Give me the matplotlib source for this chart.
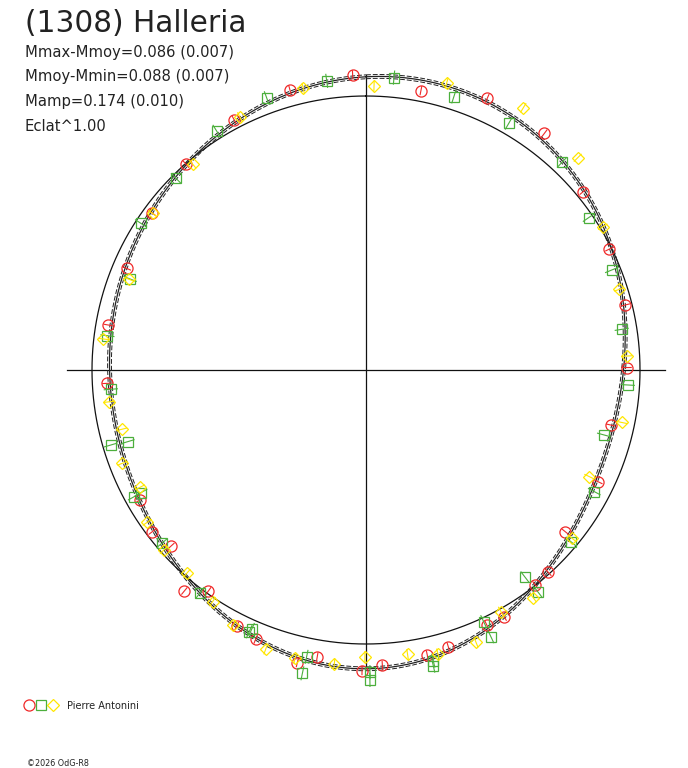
import numpy as np
import matplotlib
matplotlib.use("Agg")
import matplotlib.pyplot as plt
from matplotlib.collections import LineCollection

# ---------------- data ----------------
title = "(1308) Halleria"
stats_lines = ["Mmax-Mmoy=0.086 (0.007)", "Mmoy-Mmin=0.088 (0.007)",
               "Mamp=0.174 (0.010)", "Eclat^1.00"]
observer = "Pierre Antonini"
copyright_txt = "\u00a92026 OdG-R8"

# rotational phase (0..1, clockwise from top) and relative magnitude
red_phase = [0.9578, 0.9928, 0.0309, 0.0668, 0.9228, 0.8856, 0.8508, 0.8139, 0.7775,
             0.1028, 0.1406, 0.1766, 0.2109, 0.2485, 0.2852, 0.3214, 0.3585, 0.3833,
             0.3938, 0.4187, 0.4296, 0.4540, 0.4663, 0.4912, 0.5021, 0.5268, 0.5367,
             0.5619, 0.5744, 0.5986, 0.6095, 0.6331, 0.6469, 0.6669, 0.7418]
red_mag = [-0.059, -0.078, -0.039, -0.086, -0.032, 0.002, 0.030, 0.051, 0.045,
           -0.082, -0.026, 0.008, 0.024, 0.047, 0.085, 0.059, 0.063, 0.006,
           0.001, -0.032, -0.030, -0.055, -0.064, -0.080, -0.097, -0.062, -0.097,
           -0.062, -0.047, 0.009, -0.044, 0.041, 0.022, 0.048, 0.053]

green_phase = [0.9443, 0.9785, 0.0152, 0.0495, 0.9111, 0.8757, 0.8419, 0.8086, 0.7710,
               0.0835, 0.1204, 0.1545, 0.1885, 0.2249, 0.2591, 0.2924, 0.3279, 0.3610,
               0.3958, 0.3951, 0.4304, 0.4303, 0.4638, 0.4644, 0.4979, 0.4980, 0.5325,
               0.5329, 0.5668, 0.5661, 0.6019, 0.6380, 0.6704, 0.6706, 0.7045, 0.7035,
               0.7380]
green_mag = [-0.057, -0.065, -0.072, -0.048, -0.029, 0.015, 0.020, 0.077, 0.048,
             -0.040, -0.042, 0.015, 0.032, 0.055, 0.043, 0.100, 0.056, 0.024,
             0.047, -0.024, -0.014, -0.075, -0.089, -0.107, -0.103, -0.131, -0.069,
             -0.131, -0.046, -0.035, -0.014, 0.022, 0.036, 0.065, 0.029, 0.092,
             0.066]

yellow_phase = [0.9651, 0.0045, 0.0436, 0.9264, 0.8886, 0.8507, 0.8082, 0.7687,
                0.0860, 0.1248, 0.1634, 0.2010, 0.2415, 0.2822, 0.3209, 0.3590,
                0.3992, 0.4189, 0.4389, 0.4605, 0.4769, 0.5006, 0.5171, 0.5384,
                0.5549, 0.5764, 0.5931, 0.6150, 0.6342, 0.6532, 0.6738, 0.6918,
                0.7121, 0.7304]
yellow_mag = [-0.053, -0.037, -0.087, -0.031, 0.018, 0.034, 0.075, 0.035,
              -0.116, -0.094, -0.010, 0.030, 0.047, 0.047, 0.097, 0.029,
              -0.031, -0.010, -0.072, -0.069, -0.049, -0.046, -0.079, -0.084,
              -0.083, -0.049, -0.014, 0.011, 0.013, 0.027, 0.071, 0.048,
              0.083, 0.056]

series_err = [0.017, 0.026, 0.020]      # typical magnitude errors per session
fit_sigma = 0.007                        # fit uncertainty band
fourier_order = 4

# ---------------- figure ----------------
W, H = 688, 768
CX, CY, RPX = 366, 370, 274
fig = plt.figure(figsize=(W / 100, H / 100), dpi=100)
ax = fig.add_axes([0, 0, 1, 1])
ax.set_xlim(-CX / RPX, (W - CX) / RPX)
ax.set_ylim((CY - H) / RPX, CY / RPX)
ax.axis("off")

# axes cross
ax.plot([-1.091, 1.091], [0, 0], color="#111111", lw=0.9)
ax.plot([0, 0], [-1.088, 1.077], color="#111111", lw=0.9)

# reference circle
t = np.linspace(0, 2 * np.pi, 721)
ax.plot(np.sin(t), np.cos(t), color="#111111", lw=0.9)

# Fourier fit of all sessions
allp = np.array(red_phase + green_phase + yellow_phase)
allm = np.array(red_mag + green_mag + yellow_mag)

def design(ph):
    cols = [np.ones_like(ph)]
    for k in range(1, fourier_order + 1):
        cols += [np.cos(2 * np.pi * k * ph), np.sin(2 * np.pi * k * ph)]
    return np.column_stack(cols)

coef, *_ = np.linalg.lstsq(design(allp), allm, rcond=None)
fp = np.linspace(0, 1, 721)
fm = design(fp) @ coef
for off, ls, lw in [(0, "-", 0.9), (fit_sigma, (0, (5, 2)), 0.7), (-fit_sigma, (0, (5, 2)), 0.7)]:
    r = 1 - (fm + off)
    ax.plot(r * np.sin(2 * np.pi * fp), r * np.cos(2 * np.pi * fp),
            color="#222222", lw=lw, ls=ls)

styles = [
    (red_phase, red_mag, "o", "#f02828", 8.0),
    (green_phase, green_mag, "s", "#4caf3c", 6.6),
    (yellow_phase, yellow_mag, "D", "#ffe600", 6.2),
]
for (ph, mg, mk, col, ms), err in zip(styles, series_err):
    ph = np.array(ph); mg = np.array(mg)
    a = 2 * np.pi * ph
    r = 1 - mg
    r0, r1 = r - err, r + err
    segs = [[(r0[i] * np.sin(a[i]), r0[i] * np.cos(a[i])),
             (r1[i] * np.sin(a[i]), r1[i] * np.cos(a[i]))] for i in range(len(a))]
    ax.add_collection(LineCollection(segs, colors=col, linewidths=0.8))
    ax.plot(r * np.sin(a), r * np.cos(a), ls="none", marker=mk, ms=ms,
            mfc="none", mec=col, mew=0.9)

# ---------------- texts ----------------
def fx(px):
    return px / W

def fy(py):
    return 1 - py / H

fig.text(fx(25), fy(32), title, fontsize=21.3, family="DejaVu Sans",
         color="#222222", va="baseline")
for i, s in enumerate(stats_lines):
    fig.text(fx(25), fy(56.5 + 24.7 * i), s, fontsize=10.6, family="DejaVu Sans",
             color="#222222", va="baseline")

# legend
for (ph, mg, mk, col, ms), lx in zip(styles, [29, 41.3, 53.3]):
    ax.plot([(lx - CX) / RPX], [(CY - 704.5) / RPX], marker=mk, ms=ms,
            mfc="none", mec=col, mew=0.9, ls="none")
fig.text(fx(67), fy(709), observer, fontsize=7, family="DejaVu Sans",
         color="#222222", va="baseline")
fig.text(fx(27), fy(766), copyright_txt, fontsize=5.8, family="DejaVu Sans",
         color="#222222", va="baseline")

fig.savefig("out.png", dpi=100)
